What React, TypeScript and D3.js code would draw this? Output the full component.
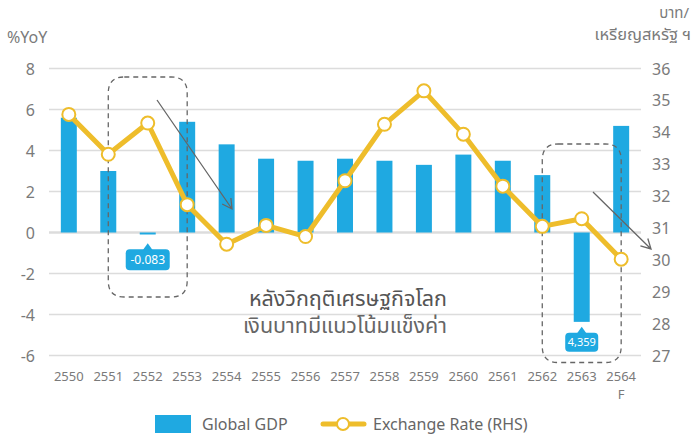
import React from "react";
import * as d3 from "d3";

const years = ["2550","2551","2552","2553","2554","2555","2556","2557","2558","2559","2560","2561","2562","2563","2564"];
const gdp = [5.6, 3.0, -0.083, 5.4, 4.3, 3.6, 3.5, 3.6, 3.5, 3.3, 3.8, 3.5, 2.8, -4.359, 5.2];
const fx = [34.56, 33.31, 34.29, 31.73, 30.49, 31.08, 30.73, 32.48, 34.25, 35.3, 33.94, 32.31, 31.05, 31.29, 30.02];
const leftTicks = [8, 6, 4, 2, 0, -2, -4, -6];
const rightTicks = [36, 35, 34, 33, 32, 31, 30, 29, 28, 27];
const callouts = [
  { year: "2552", label: "-0.083", w: 44, h: 21, fs: 12 },
  { year: "2563", label: "4,359", w: 33, h: 19, fs: 11 },
];

const BLUE = "#1FA9E1";
const GOLD = "#EEBD2B";
const FONT = "'Noto Sans', 'Noto Sans Thai', 'DejaVu Sans', sans-serif";

export default function App() {
  const W = 691, H = 439;
  const x = d3.scaleBand<string>().domain(years).range([49, 641]).paddingInner(0.595).paddingOuter(0.3);
  const yL = d3.scaleLinear().domain([-6, 8]).range([355.5, 68.5]);
  const yR = d3.scaleLinear().domain([27, 36]).range([355.5, 68.5]);
  const bw = x.bandwidth();
  const cx = (y: string) => (x(y) as number) + bw / 2;

  const line = d3.line<number>().x((_, i) => cx(years[i])).y((d) => yR(d));

  const roundBox = (x0: number, y0: number, x1: number, y1: number, r: number) =>
    `M${x0 + r},${y0}H${x1 - r}Q${x1},${y0} ${x1},${y0 + r}V${y1 - r}Q${x1},${y1} ${x1 - r},${y1}H${x0 + r}Q${x0},${y1} ${x0},${y1 - r}V${y0 + r}Q${x0},${y0} ${x0 + r},${y0}Z`;

  const arrow = (x0: number, y0: number, x1: number, y1: number) => {
    const a = Math.atan2(y1 - y0, x1 - x0);
    const L = 11, s = 0.5;
    const p1 = [x1 - L * Math.cos(a - s), y1 - L * Math.sin(a - s)];
    const p2 = [x1 - L * Math.cos(a + s), y1 - L * Math.sin(a + s)];
    return `M${x0},${y0}L${x1},${y1}M${p1[0]},${p1[1]}L${x1},${y1}L${p2[0]},${p2[1]}`;
  };

  return (
    <svg width={W} height={H} style={{ position: "absolute", left: 0, top: 0, fontFamily: FONT }}>
      <rect width={W} height={H} fill="#fff" />
      {leftTicks.map((t) => (
        <line key={t} x1={49} x2={641} y1={yL(t)} y2={yL(t)} stroke="#dcdcdc" strokeWidth={t === 0 ? 2.5 : 1.5} />
      ))}
      {leftTicks.map((t) => (
        <text key={t} x={35} y={yL(t) + 6} textAnchor="end" fontSize={16} fill="#7a7a7a">{t}</text>
      ))}
      {rightTicks.map((t) => (
        <text key={t} x={652} y={yR(t) + 6} textAnchor="start" fontSize={16} fill="#7a7a7a">{t}</text>
      ))}
      <text x={7} y={43} fontSize={16} fill="#7a7a7a">%YoY</text>
      <text x={689} y={18} textAnchor="end" fontSize={15} fill="#7a7a7a">บาท/</text>
      <text x={691} y={40} textAnchor="end" fontSize={16.5} fill="#7a7a7a">เหรียญสหรัฐ ฯ</text>

      {years.map((y, i) => (
        <rect key={y} x={x(y)} width={bw} y={Math.min(yL(0), yL(gdp[i]))}
          height={Math.max(Math.abs(yL(gdp[i]) - yL(0)), 2)} fill={BLUE} />
      ))}

      {years.map((y) => (
        <text key={y} x={cx(y)} y={381} textAnchor="middle" fontSize={13} fill="#7a7a7a">{y}</text>
      ))}
      <text x={cx("2564")} y={399} textAnchor="middle" fontSize={13} fill="#7a7a7a">F</text>

      <path d={roundBox(cx("2551"), 77, cx("2553"), 297, 16)} fill="none" stroke="#666" strokeWidth={1.3} strokeDasharray="5,4" />
      <path d={roundBox(cx("2562"), 144, cx("2564"), 362.5, 16)} fill="none" stroke="#666" strokeWidth={1.3} strokeDasharray="5,4" />

      <path d={line(fx) as string} fill="none" stroke={GOLD} strokeWidth={5} strokeLinejoin="round" />
      {fx.map((v, i) => (
        <circle key={i} cx={cx(years[i])} cy={yR(v)} r={6.5} fill="#fff" stroke={GOLD} strokeWidth={2} />
      ))}

      <path d={arrow(157, 100, 232, 209)} fill="none" stroke="#666" strokeWidth={1.3} />
      <path d={arrow(593, 192, 651, 249)} fill="none" stroke="#666" strokeWidth={1.3} />

      {callouts.map((c) => {
        const i = years.indexOf(c.year);
        const xc = cx(c.year);
        const tip = Math.max(yL(0), yL(gdp[i])) + (c.year === "2552" ? 9 : 5);
        const top = tip + 6;
        return (
          <g key={c.year}>
            <rect x={xc - c.w / 2} y={top} width={c.w} height={c.h} rx={4} fill={BLUE} />
            <path d={`M${xc - 5},${top + 1}L${xc},${tip}L${xc + 5},${top + 1}Z`} fill={BLUE} />
            <text x={xc} y={top + c.h / 2 + c.fs * 0.36} textAnchor="middle" fontSize={c.fs} fill="#fff">{c.label}</text>
          </g>
        );
      })}

      <text x={447} y={306} textAnchor="end" fontSize={21.5} fill="#555">หลังวิกฤติเศรษฐกิจโลก</text>
      <text x={447} y={333} textAnchor="end" fontSize={21.5} fill="#666">เงินบาทมีแนวโน้มแข็งค่า</text>

      <rect x={155} y={415} width={36} height={18} fill={BLUE} />
      <text x={202} y={430} fontSize={16} fill="#666">Global GDP</text>
      <line x1={323} x2={364} y1={424} y2={424} stroke={GOLD} strokeWidth={5} strokeLinecap="round" />
      <circle cx={343} cy={424} r={6} fill="#fff" stroke={GOLD} strokeWidth={2} />
      <text x={373} y={430} fontSize={16} fill="#666">Exchange Rate (RHS)</text>
    </svg>
  );
}
